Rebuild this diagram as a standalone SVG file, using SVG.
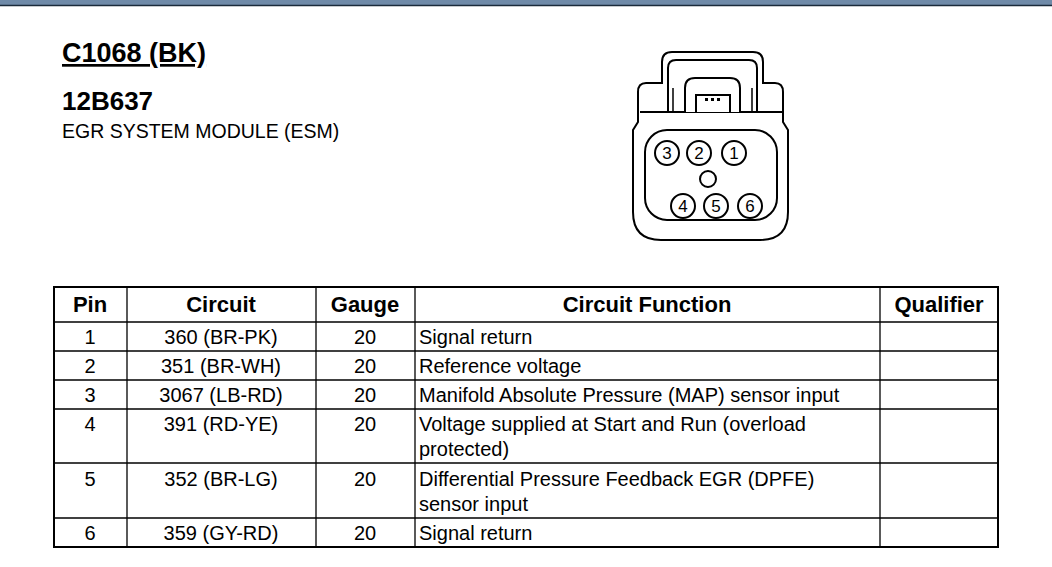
<svg xmlns="http://www.w3.org/2000/svg" width="1052" height="567" viewBox="0 0 1052 567">
<style>
text{font-family:"Liberation Sans",Arial,sans-serif;fill:#000}
.c{stroke:#000;stroke-width:2;fill:#fff}
.t{font-size:20px}
.h{font-size:22px;font-weight:bold}
.pin{font-size:17px;text-anchor:middle}
.g line{stroke:#000;stroke-width:1.3}
</style>
<rect width="1052" height="567" fill="#fff"/>
<rect x="0" y="0" width="1052" height="5" fill="#6f8aa8"/>
<line x1="0" y1="5.5" x2="1052" y2="5.5" stroke="#1a2a3a" stroke-width="1.5"/>
<g id="title">
<text x="62" y="62" style="font-size:27px;font-weight:bold;text-decoration:underline">C1068 (BK)</text>
<text x="62" y="110" style="font-size:26px;font-weight:bold">12B637</text>
<text x="62" y="138" style="font-size:19.5px">EGR SYSTEM MODULE (ESM)</text>
</g>
<g id="connector">
<path class="c" d="M662,83 L662,62 Q662,52 672,52 L753,52 Q763,52 763,62 L763,83 L775,83 Q783,83 783,92 L783,122 L788,130 L788,212 Q788,240 760,240 L661,240 Q633,240 633,212 L633,130 L638,122 L638,92 Q638,83 646,83 Z"/>
<path class="c" d="M668,112 L668,68 Q668,60 676,60 L749,60 Q757,60 757,68 L757,112"/>
<path class="c" d="M640,112 L783,112"/>
<path class="c" d="M685,112 L685,88 Q685,78 695,78 L730,78 Q740,78 740,88 L740,112"/>
<path class="c" d="M696,112 L696,95 L730,95 L730,112"/>
<path fill="none" stroke="#000" stroke-width="1.5" d="M673,112 L673,88 M752,112 L752,88"/>
<rect x="705" y="98" width="3" height="3"/><rect x="711" y="98" width="3" height="3"/><rect x="717" y="98" width="3" height="3"/>
<rect class="c" x="645" y="130" width="132" height="90" rx="22"/>
<circle class="c" cx="667" cy="153" r="12"/><text class="pin" x="667" y="159">3</text>
<circle class="c" cx="699" cy="153" r="12"/><text class="pin" x="699" y="159">2</text>
<circle class="c" cx="734" cy="153" r="12"/><text class="pin" x="734" y="159">1</text>
<circle class="c" cx="708" cy="179" r="8"/>
<circle class="c" cx="683" cy="206" r="12"/><text class="pin" x="683" y="212">4</text>
<circle class="c" cx="716" cy="206" r="12"/><text class="pin" x="716" y="212">5</text>
<circle class="c" cx="750" cy="206" r="12"/><text class="pin" x="750" y="212">6</text>
</g>
<g id="table">
<rect x="54" y="287" width="944" height="260" fill="#fff" stroke="#000" stroke-width="2"/>
<g class="g">
<line x1="127" y1="287" x2="127" y2="547"/><line x1="316" y1="287" x2="316" y2="547"/>
<line x1="415" y1="287" x2="415" y2="547"/><line x1="880" y1="287" x2="880" y2="547"/>
<line x1="54" y1="322" x2="998" y2="322"/><line x1="54" y1="351" x2="998" y2="351"/>
<line x1="54" y1="380" x2="998" y2="380"/><line x1="54" y1="409" x2="998" y2="409"/>
<line x1="54" y1="463" x2="998" y2="463"/><line x1="54" y1="518" x2="998" y2="518"/>
</g>
<g class="h" text-anchor="middle">
<text x="90" y="312">Pin</text><text x="221" y="312">Circuit</text><text x="365" y="312">Gauge</text>
<text x="647" y="312">Circuit Function</text><text x="939" y="312">Qualifier</text>
</g>
<g class="t" text-anchor="middle">
<text x="90" y="344">1</text><text x="221" y="344">360 (BR-PK)</text><text x="365" y="344">20</text>
<text x="90" y="373">2</text><text x="221" y="373">351 (BR-WH)</text><text x="365" y="373">20</text>
<text x="90" y="402">3</text><text x="221" y="402">3067 (LB-RD)</text><text x="365" y="402">20</text>
<text x="90" y="431">4</text><text x="221" y="431">391 (RD-YE)</text><text x="365" y="431">20</text>
<text x="90" y="486">5</text><text x="221" y="486">352 (BR-LG)</text><text x="365" y="486">20</text>
<text x="90" y="540">6</text><text x="221" y="540">359 (GY-RD)</text><text x="365" y="540">20</text>
</g>
<g class="t">
<text x="419" y="344">Signal return</text>
<text x="419" y="373">Reference voltage</text>
<text x="419" y="402">Manifold Absolute Pressure (MAP) sensor input</text>
<text x="419" y="431">Voltage supplied at Start and Run (overload</text>
<text x="419" y="456">protected)</text>
<text x="419" y="486">Differential Pressure Feedback EGR (DPFE)</text>
<text x="419" y="511">sensor input</text>
<text x="419" y="540">Signal return</text>
</g>
</g>
</svg>
